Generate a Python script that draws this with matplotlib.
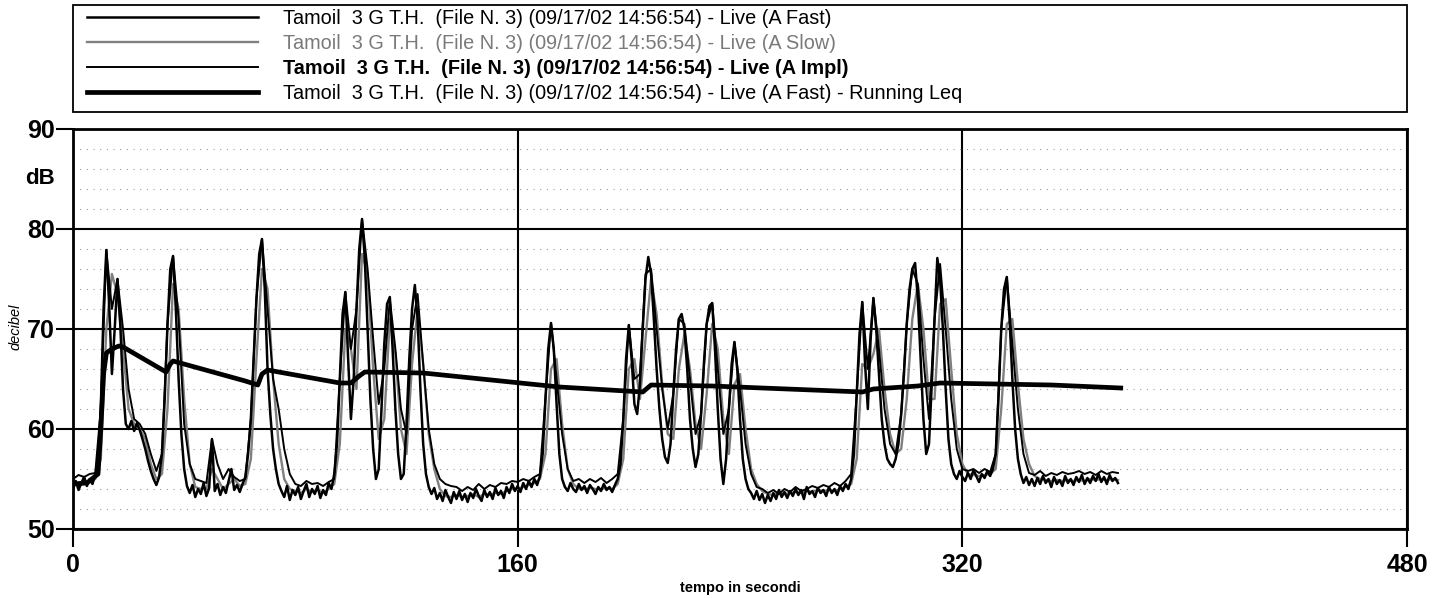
import numpy as np
import matplotlib
matplotlib.use('Agg')
import matplotlib.pyplot as plt
from matplotlib.ticker import MultipleLocator
from matplotlib.patches import Rectangle

plt.rcParams['font.family'] = ['Liberation Sans', 'DejaVu Sans']

# --- dati ---------------------------------------------------------------
# A Fast, campioni ogni secondo (0..376 s)
fast_t = np.arange(0, 377)
fast_db = [
    54.0, 54.8, 53.9, 54.6, 55.2, 54.3, 55.0, 54.5, 55.4, 56.5,
    62.0, 72.0, 77.9, 72.5, 65.5, 70.0, 75.0, 70.5, 64.0, 60.5,
    60.0, 60.8, 59.8, 60.6, 59.9, 59.0, 58.0, 56.8, 55.8, 55.0,
    54.4, 55.2, 57.5, 63.0, 70.5, 76.0, 77.3, 72.0, 65.0, 59.5,
    56.0, 54.3, 53.6, 54.4, 53.2, 54.0, 53.5, 54.6, 53.3, 54.1,
    59.0, 53.8, 54.5, 53.4, 54.2, 53.6, 54.8, 56.0, 53.9, 54.4,
    53.7, 54.5, 55.2, 57.5, 61.0, 67.0, 73.0, 77.5, 79.0, 74.0,
    66.0, 61.5, 58.0, 56.0, 54.5, 53.8, 53.2, 54.3, 52.9, 53.9,
    53.4, 54.2, 53.0, 53.8, 54.5, 53.2, 54.0, 53.5, 54.3, 53.1,
    53.9, 53.4, 54.6, 54.0, 55.5, 58.5, 65.0, 71.5, 73.7, 67.0,
    61.0, 65.0, 72.0, 78.0, 81.0, 77.0, 70.0, 63.0, 58.0, 55.0,
    56.0, 62.0, 68.5, 72.5, 73.2, 68.0, 62.0, 57.5, 55.0, 55.5,
    60.5, 67.0, 72.0, 74.4, 71.0, 64.0, 58.5, 55.5, 54.2, 53.5,
    54.1, 53.0, 53.6, 52.8, 53.9, 53.2, 52.6, 53.7, 53.0, 53.8,
    52.9, 53.5, 52.7, 53.6, 53.1, 54.0, 53.3, 52.8, 53.9, 53.2,
    53.7, 53.0, 54.1, 53.4, 53.8, 53.1, 54.2, 53.6, 54.5, 53.8,
    54.3, 53.7, 54.6, 54.0, 54.8, 54.2, 55.0, 54.4, 55.3, 57.5,
    63.0, 68.0, 70.6, 68.0, 62.5, 57.5, 55.0, 54.2, 53.8, 54.6,
    54.0, 53.7, 54.5, 53.9, 54.3, 53.6, 54.4, 54.0, 53.5, 54.2,
    53.8, 54.5, 53.9, 54.2, 53.7, 54.4, 55.0, 56.5, 61.0, 67.0,
    70.4, 67.0, 62.5, 61.5, 64.5, 70.0, 75.0, 77.2, 75.5, 71.0,
    66.0, 62.0, 59.0, 57.2, 56.6, 58.5, 63.5, 68.0, 71.0, 71.5,
    70.0, 66.0, 61.0, 58.0, 56.2, 57.5, 61.5, 66.5, 70.5, 72.3,
    72.6, 68.0, 62.0, 57.0, 54.5, 57.0, 62.0, 66.5, 68.7, 66.0,
    61.0, 57.0, 55.0, 54.0, 53.6, 53.0, 53.8, 52.9, 53.5, 52.6,
    53.4, 52.8, 53.6, 53.0, 53.9, 53.2, 53.7, 53.1, 53.8, 53.3,
    54.0, 53.4, 53.9, 53.0, 54.2, 53.5, 53.8, 53.2, 54.1, 53.6,
    53.9, 53.3, 54.2, 53.6, 54.0, 53.4, 54.3, 53.8, 54.5, 54.0,
    55.0, 57.5, 63.5, 69.5, 72.7, 66.5, 62.0, 69.0, 73.1, 70.0,
    65.5, 61.0, 58.5, 57.0, 56.5, 56.2, 57.0, 58.5, 61.5, 65.5,
    70.5, 74.0, 76.0, 76.6, 73.0, 67.0, 61.0, 57.5, 58.5, 64.5,
    71.0, 77.1, 75.0, 70.0, 64.0, 59.0, 56.5, 55.5, 55.0, 55.8,
    55.2, 54.8, 55.6, 55.0, 55.9, 55.3, 54.7, 55.5, 55.1, 55.8,
    55.3, 56.0, 57.5, 63.0, 70.0, 74.0, 75.2, 71.0, 65.0, 60.0,
    57.0, 55.5, 54.6, 55.2, 54.4, 55.0, 54.3, 55.1, 54.5, 55.3,
    54.6, 55.0, 54.2, 55.2, 54.5, 54.9, 54.3, 55.3, 54.6, 55.0,
    54.4, 55.2, 54.7, 55.4, 54.5, 55.1, 54.6, 55.3, 54.8, 55.5,
    54.7, 55.2, 54.5, 55.4, 54.8, 55.1, 54.6,
]

# A Slow, campioni ogni 2 s
slow_t = np.arange(0, 377, 2)
slow_db = [
    54.5, 54.6, 54.8, 54.7, 55.0, 57.0, 70.0, 75.5, 73.5, 68.0,
    62.0, 60.5, 60.0, 59.0, 56.5, 55.0, 55.5, 62.0, 74.5, 72.0,
    63.0, 56.5, 54.2, 54.0, 54.0, 56.0, 55.0, 54.0, 54.5, 55.0,
    54.3, 54.5, 57.0, 67.0, 76.0, 74.0, 65.0, 58.5, 55.0, 54.0,
    53.8, 53.6, 54.0, 53.7, 53.9, 53.6, 54.0, 54.5, 58.5, 70.0,
    68.0, 64.0, 77.5, 75.5, 66.0, 59.0, 61.0, 71.0, 67.5, 60.0,
    57.5, 66.5, 72.0, 66.5, 59.5, 56.0, 54.0, 53.3, 53.2, 53.4,
    53.2, 53.3, 53.5, 53.2, 53.5, 53.4, 53.6, 53.5, 53.8, 54.0,
    54.0, 54.2, 54.4, 54.6, 55.0, 57.5, 66.0, 67.0, 60.5, 56.0,
    54.5, 54.0, 54.0, 54.1, 54.0, 54.0, 54.1, 54.0, 54.5, 57.0,
    66.0, 67.0, 63.0, 69.0, 75.0, 71.5, 64.5, 59.5, 59.0, 66.0,
    69.5, 66.0, 60.5, 58.0, 63.5, 70.5, 68.0, 61.0, 57.5, 64.5,
    65.5, 60.0, 56.0, 54.5, 53.8, 53.5, 53.4, 53.6, 53.5, 53.6,
    53.7, 53.6, 53.8, 53.7, 53.9, 53.8, 53.9, 53.8, 54.0, 54.2,
    54.5, 57.0, 66.5, 66.0, 67.5, 70.0, 64.0, 59.5, 57.5, 58.0,
    63.0, 71.0, 74.5, 70.0, 63.0, 63.0, 72.5, 73.0, 66.0, 59.5,
    56.5, 55.5, 55.4, 55.3, 55.4, 55.5, 56.0, 62.0, 70.5, 71.0,
    64.5, 59.0, 56.5, 55.3, 55.0, 54.9, 54.8, 54.9, 54.8, 54.9,
    54.8, 54.9, 54.8, 55.0, 54.9, 55.0, 54.9, 55.0, 54.9,
]

# A Impl, campioni ogni 2 s
impl_t = np.arange(0, 377, 2)
impl_db = [
    55.0, 55.4, 55.2, 55.5, 55.6, 62.0, 77.9, 72.0, 75.0, 70.0,
    64.0, 61.0, 60.5, 59.5, 57.5, 55.8, 57.5, 70.5, 77.3, 71.0,
    60.5, 56.5, 55.0, 54.8, 54.6, 59.0, 56.5, 55.0, 56.0, 55.2,
    54.8, 55.0, 61.0, 73.0, 79.0, 72.0, 65.0, 62.0, 58.0, 55.5,
    54.5, 54.3, 54.8, 54.5, 54.6, 54.3, 54.7, 55.0, 65.0, 73.7,
    68.0, 72.0, 81.0, 76.0, 69.0, 62.5, 66.0, 73.0, 68.0, 62.0,
    59.5, 70.0, 73.5, 66.5, 60.0, 56.5, 55.0, 54.5, 54.3, 54.2,
    53.8, 54.2, 53.9, 54.5, 54.0, 54.4, 54.2, 54.6, 54.5, 54.8,
    54.7, 55.0, 54.8, 55.2, 55.5, 63.0, 70.6, 65.0, 59.5, 56.0,
    54.8, 55.0, 54.6, 55.0, 54.7, 55.1, 54.6, 55.0, 55.5, 61.0,
    70.4, 65.0, 65.5, 75.5, 76.0, 70.0, 64.0, 60.0, 63.5, 71.0,
    70.5, 65.0, 59.5, 61.5, 70.5, 72.6, 66.0, 59.5, 62.0, 68.7,
    64.0, 58.5, 55.5, 54.2, 54.0, 53.6, 53.9, 53.5, 54.0, 53.7,
    54.2, 53.8, 54.0, 54.3, 54.1, 54.4, 54.2, 54.6, 54.3, 54.8,
    55.5, 63.5, 72.7, 66.0, 73.1, 68.0, 62.0, 58.5, 57.5, 61.5,
    70.5, 76.0, 74.5, 67.0, 61.0, 71.0, 76.5, 70.0, 63.0, 58.0,
    56.0, 55.8, 56.0, 55.6, 56.0, 55.7, 57.5, 70.0, 75.2, 68.5,
    62.0, 57.5, 55.6, 55.4, 55.8, 55.3, 55.6, 55.4, 55.7, 55.5,
    55.6, 55.8, 55.5, 55.7, 55.4, 55.8, 55.5, 55.7, 55.6,
]

# Running Leq
leq_t = [0, 5, 9, 10, 11, 12, 14, 16.5, 18, 33.5, 35, 36, 62, 66.5, 68, 70,
         96, 100, 103, 105, 126, 175, 205, 208, 230, 284, 288, 304, 312, 352, 377]
leq_db = [54.5, 54.6, 55.5, 60.0, 65.5, 67.6, 68.0, 68.3, 68.2, 65.7, 66.5, 66.8,
          64.8, 64.4, 65.5, 65.9, 64.6, 64.6, 65.3, 65.7, 65.6, 64.2, 63.7, 64.4,
          64.3, 63.7, 64.0, 64.3, 64.6, 64.4, 64.1]

series_labels = [
    'Tamoil  3 G T.H.  (File N. 3) (09/17/02 14:56:54) - Live (A Fast)',
    'Tamoil  3 G T.H.  (File N. 3) (09/17/02 14:56:54) - Live (A Slow)',
    'Tamoil  3 G T.H.  (File N. 3) (09/17/02 14:56:54) - Live (A Impl)',
    'Tamoil  3 G T.H.  (File N. 3) (09/17/02 14:56:54) - Live (A Fast) - Running Leq',
]

x_ticks = [0, 160, 320, 480]
y_ticks = [50, 60, 70, 80, 90]

W, H = 1443, 598

# --- figura ----------------------------------------------------------------
fig = plt.figure(figsize=(W / 100, H / 100), dpi=100)
ax = fig.add_axes([73 / W, 1 - 529 / H, (1407 - 73) / W, 400 / H])

l_slow, = ax.plot(slow_t, slow_db, color='#808080', lw=1.7, zorder=3)
l_fast, = ax.plot(fast_t, fast_db, color='black', lw=1.8, zorder=4)
l_impl, = ax.plot(impl_t, impl_db, color='black', lw=1.4, zorder=4)
l_leq, = ax.plot(leq_t, leq_db, color='black', lw=3.4, zorder=5)

ax.set_xlim(0, 480)
ax.set_ylim(50, 90)
ax.set_xticks(x_ticks)
ax.set_yticks(y_ticks)
ax.yaxis.set_minor_locator(MultipleLocator(2))

# griglia: linee piene ogni 10 dB / 160 s, punteggiate ogni 2 dB
ax.set_axisbelow(True)
ax.grid(which='major', color='black', lw=1.5)
ax.grid(which='minor', axis='y', color='#9a9a9a', lw=0.8, linestyle=(0, (1, 5)))
ax.tick_params(which='minor', length=0)
ax.tick_params(axis='y', which='major', direction='out', length=12, width=1.5, pad=1)
ax.tick_params(axis='x', which='major', direction='out', length=13, width=1.5, pad=4)

for s in ax.spines.values():
    s.set_linewidth(2)

for lab in ax.get_xticklabels() + ax.get_yticklabels():
    lab.set_fontweight('bold')
    lab.set_fontsize(18)

fig.text(740 / W, 1 - 588 / H, 'tempo in secondi', ha='center', va='center',
         fontsize=10.5, fontweight='bold')
fig.text(15 / W, 1 - 327 / H, 'decibel', ha='center', va='center',
         rotation=90, fontsize=10.5, style='italic')
fig.text(40 / W, 1 - 179 / H, 'dB', ha='center', va='center',
         fontsize=16, fontweight='bold')

# legenda in alto: cornice disegnata a parte
fig.patches.append(Rectangle((73 / W, 1 - 112 / H), (1407 - 73) / W, 107 / H,
                             transform=fig.transFigure, fill=False,
                             edgecolor='black', lw=1.3))
leg = fig.legend([l_fast, l_slow, l_impl, l_leq], series_labels,
                 loc='upper left', bbox_to_anchor=(87 / W, 1 - 9 / H),
                 fontsize=14.3, frameon=False, borderaxespad=0, borderpad=0,
                 labelspacing=0.3, handlelength=8.6, handletextpad=1.25)
texts = leg.get_texts()
texts[1].set_color('#7a7a7a')
texts[2].set_fontweight('bold')

fig.savefig('out.png', dpi=100)
